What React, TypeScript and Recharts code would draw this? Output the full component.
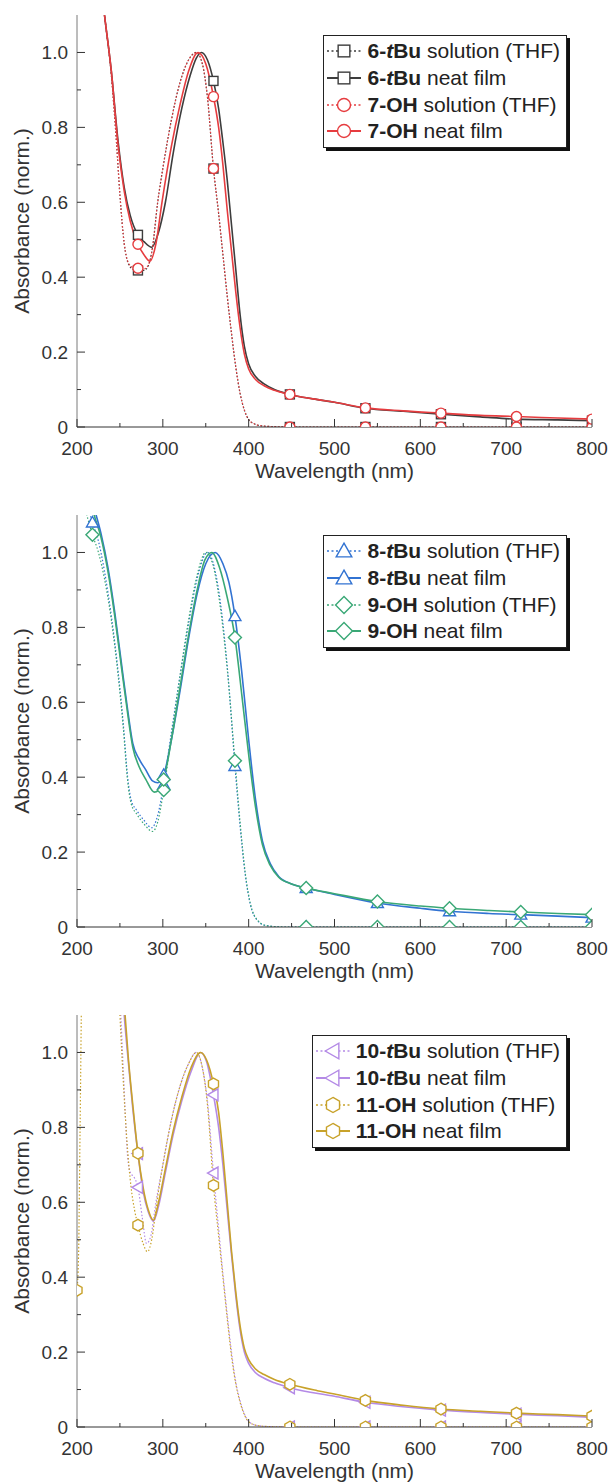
import React from "react";
import { Legend, Line, LineChart, XAxis, YAxis, Label } from "recharts";

type Pair = [number, number];
type Shape = "square" | "circle" | "triangle" | "diamond" | "triLeft" | "hexagon";

// ---- axis ticks ----
const xTicks = [200, 250, 300, 350, 400, 450, 500, 550, 600, 650, 700, 750, 800];
const xMajor = [200, 300, 400, 500, 600, 700, 800];
const yTicks = [0, 0.1, 0.2, 0.3, 0.4, 0.5, 0.6, 0.7, 0.8, 0.9, 1.0];
const yMajor = [0, 0.2, 0.4, 0.6, 0.8, 1.0];

// ---- marker positions (nm) ----
const markersA = [271, 359, 448, 536, 624, 712, 800];
const markersB = [218, 301, 384, 467, 550, 634, 717, 800];
const markersGoldSol = [200, 271, 359, 448, 536, 624, 712, 800];

// ---- panel 1: 6-tBu / 7-OH ----
const tBu6Sol: Pair[] = [
  [222, 1.3], [232, 1.1], [240, 0.94], [246, 0.76], [250, 0.62], [255, 0.49], [260, 0.435], [266, 0.42],
  [271, 0.418], [278, 0.418], [283, 0.43], [288, 0.48], [294, 0.6], [300, 0.69], [310, 0.82], [320, 0.92],
  [330, 0.98], [339, 1.0], [346, 0.97], [352, 0.88], [359, 0.69], [365, 0.57], [370, 0.46], [375, 0.35],
  [380, 0.25], [385, 0.16], [390, 0.09], [395, 0.045], [400, 0.02], [407, 0.008], [415, 0.003], [430, 0.001],
  [448, 0], [536, 0], [624, 0], [712, 0], [800, 0],
];
const tBu6Film: Pair[] = [
  [222, 1.3], [232, 1.1], [240, 0.95], [248, 0.76], [255, 0.64], [262, 0.565], [271, 0.513], [278, 0.495],
  [287, 0.48], [295, 0.52], [303, 0.6], [312, 0.73], [322, 0.85], [332, 0.94], [339, 0.985], [345, 1.0],
  [352, 0.98], [359, 0.924], [365, 0.85], [370, 0.76], [375, 0.66], [380, 0.54], [385, 0.42], [390, 0.3],
  [395, 0.215], [400, 0.168], [408, 0.135], [418, 0.115], [430, 0.1], [448, 0.087], [475, 0.075], [500, 0.066],
  [536, 0.05], [580, 0.042], [624, 0.034], [670, 0.027], [712, 0.021], [760, 0.019], [800, 0.017],
];
const oh7Sol: Pair[] = [
  [222, 1.3], [232, 1.1], [240, 0.94], [246, 0.76], [250, 0.62], [255, 0.49], [260, 0.438], [266, 0.425],
  [271, 0.424], [278, 0.422], [283, 0.432], [288, 0.48], [294, 0.6], [300, 0.69], [310, 0.82], [320, 0.92],
  [330, 0.98], [339, 1.0], [346, 0.97], [352, 0.88], [359, 0.69], [365, 0.57], [370, 0.46], [375, 0.35],
  [380, 0.25], [385, 0.16], [390, 0.09], [395, 0.045], [400, 0.02], [407, 0.008], [415, 0.003], [430, 0.001],
  [448, 0], [536, 0], [624, 0], [712, 0], [800, 0],
];
const oh7Film: Pair[] = [
  [222, 1.3], [232, 1.1], [240, 0.95], [248, 0.75], [255, 0.63], [262, 0.55], [271, 0.488], [278, 0.46],
  [285, 0.443], [292, 0.49], [299, 0.6], [310, 0.75], [320, 0.86], [330, 0.95], [341, 1.0], [350, 0.97],
  [359, 0.882], [365, 0.8], [370, 0.7], [375, 0.58], [380, 0.47], [385, 0.36], [390, 0.265], [395, 0.195],
  [400, 0.155], [408, 0.127], [418, 0.11], [430, 0.098], [448, 0.087], [475, 0.075], [500, 0.066],
  [536, 0.051], [580, 0.043], [624, 0.037], [670, 0.031], [712, 0.028], [760, 0.024], [800, 0.021],
];

// ---- panel 2: 8-tBu / 9-OH ----
const tBu8Sol: Pair[] = [
  [208, 1.16], [218, 1.08], [225, 1.03], [232, 0.95], [240, 0.83], [248, 0.68], [254, 0.54], [259, 0.4],
  [263, 0.34], [270, 0.31], [278, 0.285], [287, 0.265], [293, 0.29], [301, 0.38], [310, 0.52], [320, 0.67],
  [330, 0.81], [340, 0.93], [352, 1.0], [360, 0.96], [368, 0.85], [376, 0.67], [384, 0.43], [390, 0.27],
  [396, 0.14], [402, 0.06], [410, 0.018], [420, 0.004], [440, 0.0], [467, 0], [550, 0], [634, 0], [717, 0], [800, 0],
];
const tBu8Film: Pair[] = [
  [210, 1.22], [220, 1.12], [228, 1.05], [236, 0.96], [244, 0.84], [252, 0.7], [259, 0.58], [265, 0.49],
  [272, 0.45], [280, 0.42], [288, 0.39], [294, 0.385], [301, 0.406], [310, 0.5], [320, 0.63], [330, 0.77],
  [340, 0.89], [350, 0.97], [361, 1.0], [370, 0.97], [377, 0.92], [384, 0.83], [392, 0.68], [400, 0.5],
  [408, 0.34], [416, 0.23], [425, 0.17], [435, 0.135], [450, 0.115], [467, 0.104], [500, 0.087], [550, 0.064],
  [600, 0.05], [634, 0.042], [680, 0.036], [717, 0.033], [760, 0.029], [800, 0.025],
];
const oh9Sol: Pair[] = [
  [208, 1.13], [218, 1.047], [225, 1.0], [232, 0.93], [240, 0.82], [248, 0.67], [254, 0.53], [259, 0.39],
  [263, 0.33], [270, 0.3], [278, 0.275], [288, 0.255], [294, 0.28], [301, 0.366], [310, 0.51], [320, 0.67],
  [330, 0.82], [340, 0.94], [350, 1.0], [358, 0.97], [366, 0.87], [375, 0.69], [384, 0.444], [390, 0.28],
  [396, 0.145], [402, 0.062], [410, 0.019], [420, 0.004], [440, 0.0], [467, 0], [550, 0], [634, 0], [717, 0], [800, 0],
];
const oh9Film: Pair[] = [
  [210, 1.2], [220, 1.1], [228, 1.04], [236, 0.95], [244, 0.83], [252, 0.69], [259, 0.57], [265, 0.48],
  [272, 0.43], [280, 0.395], [290, 0.36], [295, 0.365], [301, 0.394], [310, 0.5], [320, 0.64], [330, 0.78],
  [340, 0.9], [349, 0.98], [357, 1.0], [366, 0.96], [375, 0.88], [384, 0.773], [392, 0.62], [400, 0.46],
  [408, 0.32], [416, 0.22], [425, 0.165], [435, 0.133], [450, 0.115], [467, 0.104], [500, 0.089], [550, 0.068],
  [600, 0.056], [634, 0.05], [680, 0.044], [717, 0.04], [760, 0.036], [800, 0.033],
];

// ---- panel 3: 10-tBu / 11-OH ----
const tBu10Sol: Pair[] = [
  [244, 1.4], [251, 1.1], [254, 0.95], [257, 0.8], [259, 0.72], [262, 0.68], [267, 0.665], [271, 0.64],
  [276, 0.56], [281, 0.49], [286, 0.51], [292, 0.6], [300, 0.7], [310, 0.82], [320, 0.91], [330, 0.97],
  [339, 1.0], [346, 0.96], [352, 0.87], [359, 0.678], [365, 0.53], [370, 0.41], [375, 0.3], [380, 0.2],
  [385, 0.12], [390, 0.07], [395, 0.035], [400, 0.015], [410, 0.004], [425, 0.001], [448, 0], [536, 0],
  [624, 0], [712, 0], [800, 0],
];
const tBu10Film: Pair[] = [
  [248, 1.35], [255, 1.1], [260, 0.97], [265, 0.85], [271, 0.73], [277, 0.63], [283, 0.575], [289, 0.55],
  [295, 0.59], [303, 0.68], [312, 0.78], [322, 0.87], [333, 0.95], [344, 1.0], [351, 0.975], [359, 0.887],
  [365, 0.8], [370, 0.7], [375, 0.58], [380, 0.46], [385, 0.35], [390, 0.26], [395, 0.2], [400, 0.17],
  [408, 0.145], [418, 0.13], [430, 0.118], [448, 0.105], [500, 0.082], [536, 0.066], [580, 0.054],
  [624, 0.045], [670, 0.039], [712, 0.034], [760, 0.03], [800, 0.026],
];
const oh11Sol: Pair[] = [
  [200, 0.365], [202, 0.48], [203, 0.68], [204, 0.88], [205, 1.1], [207, 1.4], [220, 1.9], [236, 1.9],
  [246, 1.3], [250, 1.1], [254, 0.92], [258, 0.77], [263, 0.64], [267, 0.58], [271, 0.539], [277, 0.49],
  [282, 0.468], [287, 0.5], [293, 0.6], [300, 0.7], [310, 0.82], [320, 0.91], [330, 0.97], [339, 1.0],
  [346, 0.96], [352, 0.86], [359, 0.645], [365, 0.51], [370, 0.4], [375, 0.29], [380, 0.19], [385, 0.115],
  [390, 0.066], [395, 0.033], [400, 0.014], [410, 0.004], [425, 0.001], [448, 0], [536, 0], [624, 0], [712, 0], [800, 0],
];
const oh11Film: Pair[] = [
  [249, 1.35], [256, 1.1], [260, 0.98], [265, 0.86], [271, 0.731], [277, 0.64], [283, 0.58], [289, 0.552],
  [295, 0.6], [303, 0.69], [312, 0.79], [322, 0.88], [333, 0.96], [344, 1.0], [351, 0.98], [359, 0.916],
  [365, 0.84], [370, 0.73], [375, 0.6], [380, 0.47], [385, 0.36], [390, 0.27], [395, 0.21], [400, 0.18],
  [408, 0.155], [418, 0.14], [430, 0.127], [448, 0.114], [480, 0.097], [500, 0.088], [536, 0.071],
  [580, 0.058], [624, 0.048], [670, 0.042], [712, 0.037], [760, 0.033], [800, 0.029],
];

const FONT = '"Liberation Sans", Arial, sans-serif';
const TEXT = "#333";

type Series = {
  id: string;
  num: string;
  group: "tBu" | "OH";
  kind: "solution" | "film";
  color: string;
  shape: Shape;
  data: Pair[];
  markers: number[];
};

function Marker({ shape, cx, cy, color, s = 1 }: { shape: Shape; cx: number; cy: number; color: string; s?: number }) {
  const common = { fill: "#fff", stroke: color, strokeWidth: 1.4 };
  if (shape === "square") return <rect x={cx - 4.5 * s} y={cy - 4.5 * s} width={9 * s} height={9 * s} {...common} />;
  if (shape === "circle") return <circle cx={cx} cy={cy} r={5 * s} {...common} />;
  let pts: number[][] = [];
  if (shape === "triangle") pts = [[0, -6], [6, 4.5], [-6, 4.5]];
  if (shape === "diamond") pts = [[0, -6.5], [6.5, 0], [0, 6.5], [-6.5, 0]];
  if (shape === "triLeft") pts = [[-6, 0], [4.5, -6], [4.5, 6]];
  if (shape === "hexagon") pts = [0, 1, 2, 3, 4, 5].map((k) => {
    const a = ((-90 + 60 * k) * Math.PI) / 180;
    return [5.8 * Math.cos(a), 5.8 * Math.sin(a)];
  });
  return <polygon points={pts.map(([px, py]) => `${cx + px * s},${cy + py * s}`).join(" ")} {...common} />;
}

function makeTick(side: "left" | "bottom" | "top" | "right", majors: number[], fmt?: (v: number) => string) {
  return (props: any) => {
    const { x, y, payload } = props;
    const v = payload.value as number;
    const major = majors.includes(v);
    const len = major ? 8 : 4;
    const stroke = "#333";
    if (side === "left")
      return (
        <g>
          <line x1={x} y1={y} x2={x + len} y2={y} stroke={stroke} />
          {major && fmt && (
            <text x={x - 9} y={y} dy="0.36em" textAnchor="end" fontSize={19} fill={TEXT} fontFamily={FONT}>
              {fmt(v)}
            </text>
          )}
        </g>
      );
    if (side === "right") return <line x1={x} y1={y} x2={x - len} y2={y} stroke={stroke} />;
    if (side === "top") return <line x1={x} y1={y} x2={x} y2={y + len} stroke={stroke} />;
    return (
      <g>
        <line x1={x} y1={y} x2={x} y2={y - len} stroke={stroke} />
        {major && fmt && (
          <text x={x} y={y + 28} textAnchor="middle" fontSize={19} fill={TEXT} fontFamily={FONT}>
            {fmt(v)}
          </text>
        )}
      </g>
    );
  };
}

function LegendBox({ series }: { series: Series[] }) {
  return (
    <div
      style={{
        background: "#fff",
        border: "1px solid #222",
        boxShadow: "3px 3px 0 #111",
        padding: "2px 6px 2px 2px",
        fontFamily: FONT,
        fontSize: 21,
        color: "#222",
      }}
    >
      {series.map((s) => (
        <div key={s.id} style={{ display: "flex", alignItems: "center", height: 26.7, whiteSpace: "nowrap" }}>
          <svg width={36} height={22} style={{ display: "block" }}>
            <line
              x1={1}
              x2={35}
              y1={11}
              y2={11}
              stroke={s.color}
              strokeWidth={s.kind === "film" ? 1.8 : 1.4}
              strokeDasharray={s.kind === "film" ? undefined : "2 2.5"}
            />
            <Marker shape={s.shape} cx={18} cy={11} color={s.color} s={1.3} />
          </svg>
          <span style={{ marginLeft: 5 }}>
            <b>
              {s.num}-{s.group === "tBu" ? (
                <>
                  <i>t</i>Bu
                </>
              ) : (
                "OH"
              )}
            </b>
            {s.kind === "solution" ? " solution (THF)" : " neat film"}
          </span>
        </div>
      ))}
    </div>
  );
}

const yFmt = (v: number) => (v === 0 ? "0" : v.toFixed(1));
const xFmt = (v: number) => String(v);

function Panel({ series, top }: { series: Series[]; top: number }) {
  return (
    <div style={{ position: "absolute", left: 0, top, width: 614, height: 500 }}>
      <LineChart width={614} height={500} margin={{ top: 15, right: 22, bottom: 0, left: 0 }}>
        <XAxis
          xAxisId="b"
          dataKey="x"
          type="number"
          domain={[200, 800]}
          allowDataOverflow
          ticks={xTicks}
          interval={0}
          height={73}
          tickSize={0}
          tickMargin={0}
          tickLine={false}
          axisLine={{ stroke: "#333" }}
          tick={makeTick("bottom", xMajor, xFmt)}
        >
          <Label
            value="Wavelength (nm)"
            position="insideBottom"
            offset={22}
            style={{ fontSize: 21, fill: TEXT, fontFamily: FONT }}
          />
        </XAxis>
        <XAxis
          xAxisId="t"
          orientation="top"
          type="number"
          domain={[200, 800]}
          allowDataOverflow
          ticks={xTicks}
          interval={0}
          height={0}
          tickSize={0}
          tickMargin={0}
          tickLine={false}
          axisLine={{ stroke: "#333" }}
          tick={makeTick("top", xMajor)}
        />
        <YAxis
          yAxisId="l"
          type="number"
          domain={[0, 1.1]}
          allowDataOverflow
          ticks={yTicks}
          interval={0}
          width={77}
          tickSize={0}
          tickMargin={0}
          tickLine={false}
          axisLine={{ stroke: "#7a7a7a" }}
          tick={makeTick("left", yMajor, yFmt)}
        >
          <Label
            value="Absorbance (norm.)"
            angle={-90}
            position="insideLeft"
            offset={22}
            style={{ fontSize: 21, fill: TEXT, fontFamily: FONT, textAnchor: "middle" }}
          />
        </YAxis>
        <YAxis
          yAxisId="r"
          orientation="right"
          type="number"
          domain={[0, 1.1]}
          allowDataOverflow
          ticks={yTicks}
          interval={0}
          width={0}
          tickSize={0}
          tickMargin={0}
          tickLine={false}
          axisLine={{ stroke: "#333" }}
          tick={makeTick("right", yMajor)}
        />
        {series.map((s) => (
          <Line
            key={s.id}
            xAxisId="b"
            yAxisId="l"
            data={s.data.map(([x, y]) => ({ x, y }))}
            dataKey="y"
            type="monotone"
            stroke={s.color}
            strokeWidth={s.kind === "film" ? 1.6 : 1.2}
            strokeDasharray={s.kind === "film" ? undefined : "1.5 2"}
            isAnimationActive={false}
            legendType="none"
            dot={(p: any) => {
              const { cx, cy, payload, index } = p;
              if (cx == null || cy == null || !s.markers.includes(payload.x)) return <g key={`${s.id}-${index}`} />;
              return (
                <g key={`${s.id}-${index}`}>
                  <Marker shape={s.shape} cx={cx} cy={cy} color={s.color} />
                </g>
              );
            }}
            activeDot={false}
          />
        ))}
        <Legend
          layout="vertical"
          align="center"
          verticalAlign="middle"
          wrapperStyle={{ top: 35, right: 47, left: "auto", width: "auto" }}
          content={() => <LegendBox series={series} />}
        />
      </LineChart>
    </div>
  );
}

const GRAY = "#3d3d3d";
const RED = "#e63c3f";
const BLUE = "#3273d2";
const GREEN = "#3aa876";
const PURPLE = "#b48ae6";
const GOLD = "#c8a22a";

const panel1: Series[] = [
  { id: "6s", num: "6", group: "tBu", kind: "solution", color: GRAY, shape: "square", data: tBu6Sol, markers: markersA },
  { id: "6f", num: "6", group: "tBu", kind: "film", color: GRAY, shape: "square", data: tBu6Film, markers: markersA },
  { id: "7s", num: "7", group: "OH", kind: "solution", color: RED, shape: "circle", data: oh7Sol, markers: markersA },
  { id: "7f", num: "7", group: "OH", kind: "film", color: RED, shape: "circle", data: oh7Film, markers: markersA },
];
const panel2: Series[] = [
  { id: "8s", num: "8", group: "tBu", kind: "solution", color: BLUE, shape: "triangle", data: tBu8Sol, markers: markersB },
  { id: "8f", num: "8", group: "tBu", kind: "film", color: BLUE, shape: "triangle", data: tBu8Film, markers: markersB },
  { id: "9s", num: "9", group: "OH", kind: "solution", color: GREEN, shape: "diamond", data: oh9Sol, markers: markersB },
  { id: "9f", num: "9", group: "OH", kind: "film", color: GREEN, shape: "diamond", data: oh9Film, markers: markersB },
];
const panel3: Series[] = [
  { id: "10s", num: "10", group: "tBu", kind: "solution", color: PURPLE, shape: "triLeft", data: tBu10Sol, markers: markersA },
  { id: "10f", num: "10", group: "tBu", kind: "film", color: PURPLE, shape: "triLeft", data: tBu10Film, markers: markersA },
  { id: "11s", num: "11", group: "OH", kind: "solution", color: GOLD, shape: "hexagon", data: oh11Sol, markers: markersGoldSol },
  { id: "11f", num: "11", group: "OH", kind: "film", color: GOLD, shape: "hexagon", data: oh11Film, markers: markersA },
];

export default function App() {
  return (
    <div
      style={{
        position: "absolute",
        left: 0,
        top: 0,
        width: 614,
        height: 1484,
        overflow: "hidden",
        background: "#fff",
        fontFamily: FONT,
      }}
    >
      <Panel series={panel1} top={0} />
      <Panel series={panel2} top={500} />
      <Panel series={panel3} top={1000} />
    </div>
  );
}
